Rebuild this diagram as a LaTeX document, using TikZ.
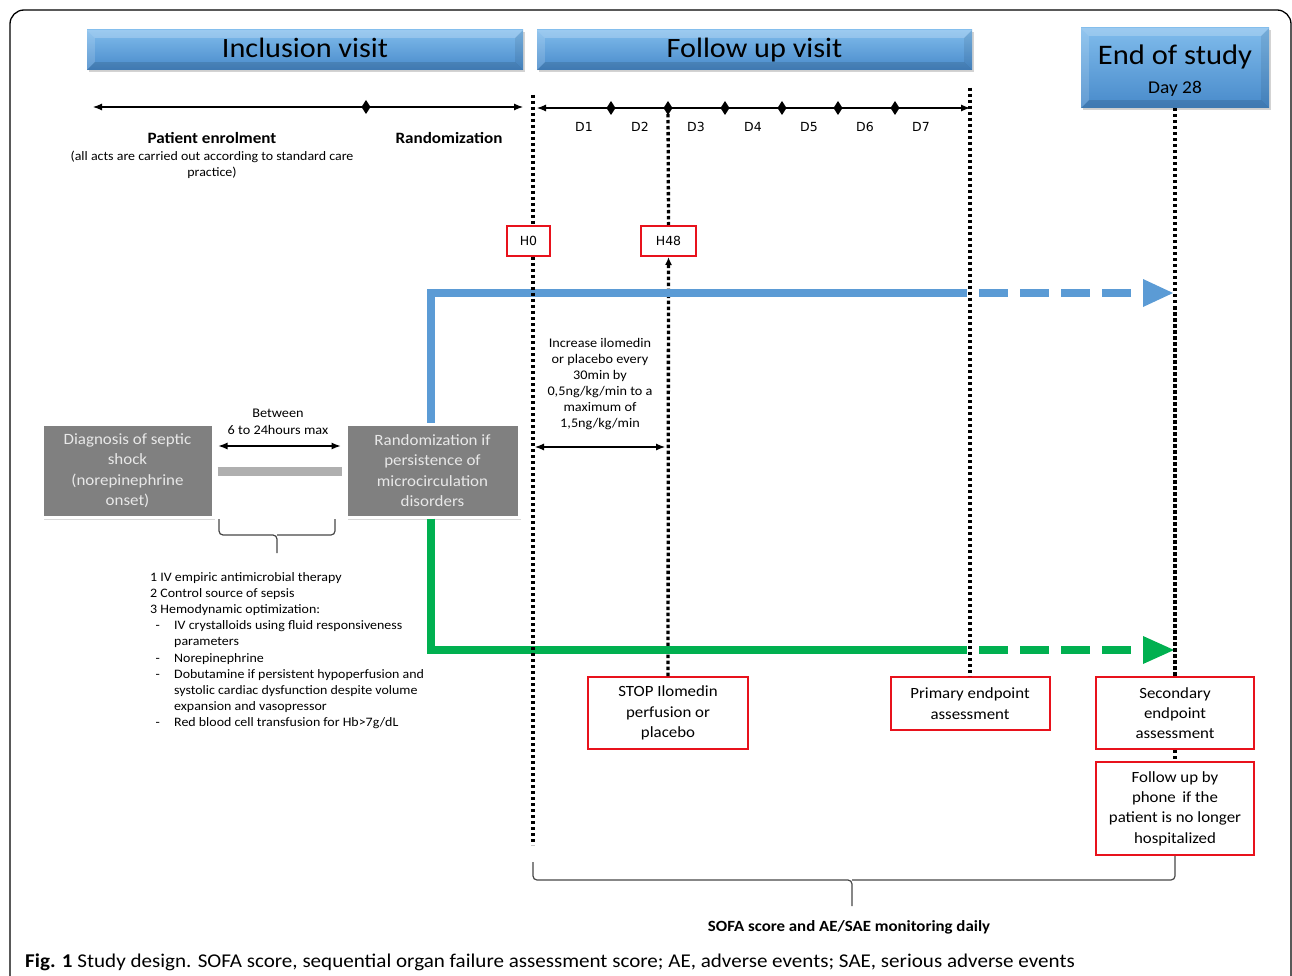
\documentclass[tikz,border=0pt]{standalone}
\usepackage{fontspec}
\setmainfont{Carlito}[FakeStretch=1.08]
\newfontfamily\verd{DejaVu Sans}
\usetikzlibrary{arrows.meta,shadows,calc}
\definecolor{bannerTop}{RGB}{128,188,236}
\definecolor{bannerBot}{RGB}{72,138,202}
\definecolor{bluel}{RGB}{91,155,213}
\definecolor{greenl}{RGB}{0,176,80}
\definecolor{redb}{RGB}{232,18,28}
\definecolor{grayb}{RGB}{128,128,128}
\definecolor{graytext}{RGB}{232,232,232}
\definecolor{graybar}{RGB}{175,175,175}
\definecolor{bracec}{RGB}{70,70,70}
\newcommand\fs[2]{\fontsize{#1}{#2}\selectfont}
\newcommand\dmd[1]{\fill (#1) +(0,-7) -- +(4.5,0) -- +(0,7) -- +(-4.5,0) -- cycle;}
\begin{document}
\begin{tikzpicture}[x=1pt,y=-1pt,
  banner/.style={draw=none, top color=bannerTop, bottom color=bannerBot, inner sep=0pt,
    drop shadow={opacity=0.35,shadow xshift=1.5pt,shadow yshift=-2.5pt}},
  graybox/.style={draw=white, line width=3pt, fill=grayb, text=graytext, align=center, inner sep=0pt,
    font=\fs{15.7}{20.5}, drop shadow={opacity=0.3,shadow xshift=2pt,shadow yshift=-2.5pt}},
  redbox/.style={draw=redb, line width=2pt, fill=white, align=center, inner sep=0pt, font=\fs{15.6}{20.3}},
  dotline/.style={line width=3.3pt, dash pattern=on 3.3pt off 2.7pt},
  tl/.style={line width=1.1pt, {Latex[length=9pt,width=7pt]}-{Latex[length=9pt,width=7pt]}},
  bracel/.style={draw=bracec, line width=1.2pt, rounded corners=4pt},
  lab/.style={inner sep=0pt, align=center}]
\useasboundingbox (0,0) rectangle (1292,976);
% frame
\draw[line width=1.3pt, rounded corners=14pt] (10,10) rectangle (1291,1010);

% banners
\node[banner, minimum width=436pt, minimum height=40pt] (inc) at (305,50) {};
\node[banner, minimum width=435pt, minimum height=40pt] (fol) at (754.5,50) {};
\node[banner, minimum width=188pt, minimum height=80pt] (endb) at (1175,68) {};
\foreach \n in {inc,fol,endb} {
  \fill[white,opacity=0.22] (\n.north west) -- (\n.north east) -- ($(\n.north east)+(-8,8)$) -- ($(\n.north west)+(8,8)$) -- cycle;
  \fill[white,opacity=0.15] (\n.north west) -- ($(\n.north west)+(8,8)$) -- ($(\n.south west)+(8,-8)$) -- (\n.south west) -- cycle;
  \fill[black,opacity=0.12] (\n.south west) -- ($(\n.south west)+(8,-8)$) -- ($(\n.south east)+(-8,-8)$) -- (\n.south east) -- cycle;
  \fill[black,opacity=0.08] (\n.north east) -- ($(\n.north east)+(-8,8)$) -- ($(\n.south east)+(-8,-8)$) -- (\n.south east) -- cycle;
}
\node[lab, anchor=base, font=\fs{28}{32}] (incT) at (305,58) {Inclusion visit};
\node[lab, anchor=base, font=\fs{28}{32}] (folT) at (754.5,58) {Follow up visit};
\node[lab, anchor=base, font=\fs{28.3}{32}] (endT) at (1175,65) {End of study};
\node[lab, anchor=base, font=\fs{18}{20}] (dayT) at (1175,94) {Day 28};

% dotted verticals (behind boxes)
\coordinate (v0t) at (533,95); \coordinate (v0b) at (533,845);
\draw[dotline] (v0t) -- (v0b);

% timelines
\coordinate (t1a) at (93,107); \coordinate (t1b) at (523,107);
\draw[tl] (t1a) -- (t1b);
\dmd{366,107}
\coordinate (t2a) at (537,108); \coordinate (t2b) at (970,108);
\draw[tl] (t2a) -- (t2b);
\foreach \x in {611,668,725,782,838,895} {\dmd{\x,108}}

\foreach \x/\d in {584/1,640/2,696/3,753/4,809/5,865/6,921/7}
  \node[lab, anchor=base, font=\verd\fs{12.5}{15}] (d\d) at (\x,132) {D\d};

\node[lab, anchor=base, font=\bfseries\fs{15.8}{18}] (penr) at (212,144) {Patient enrolment};
\node[lab, anchor=north, font=\fs{12.9}{16}] (acts) at (212,151) {(all acts are carried out according to standard care\\practice)};
\node[lab, anchor=base, font=\bfseries\fs{15.8}{18}] (rnd) at (449,144) {Randomization};

% H boxes
\node[redbox, font=\verd\fs{12.5}{15}, minimum width=43pt, minimum height=30pt] (h0) at (528.5,241) {H0};
\node[redbox, font=\verd\fs{12.5}{15}, minimum width=55pt, minimum height=30pt] (h48) at (668.5,241) {H48};

% bottom red boxes
\node[redbox, minimum width=160pt, minimum height=72pt] (stop) at (668,713) {STOP Ilomedin\\perfusion or\\placebo};
\node[redbox, minimum width=159pt, minimum height=53pt] (prim) at (970,703.5) {Primary endpoint\\assessment};
\node[redbox, minimum width=158pt, minimum height=72pt] (sec) at (1175,713) {Secondary\\endpoint\\assessment};
\node[redbox, minimum width=158pt, minimum height=93pt] (fup) at (1175,808.5) {Follow up by\\phone\, if the\\patient is no longer\\hospitalized};

\draw[dotline] (668,108) -- (h48.north);
\draw[dotline, -{Latex[length=8pt,width=7pt]}] (stop.north) -- (h48.south);
\coordinate (v2t) at (970,88);
\draw[dotline] (v2t) -- (prim.north);
\draw[dotline] (endb.south) -- (sec.north);
\draw[dotline] (sec.south) -- (fup.north);

% gray boxes
\node[graybox, minimum width=171pt, minimum height=93pt] (diag) at (127.5,470.5) {Diagnosis of septic\\shock\\(norepinephrine\\onset)};
\node[graybox, minimum width=173pt, minimum height=93pt] (rand) at (432.5,470.5) {Randomization if\\persistence of\\microcirculation\\disorders};
\draw[graybar, line width=9pt] ($(diag.east)+(3,1)$) -- ($(rand.west)+(-3,1)$);
\draw[tl] ($(diag.east)+(4,-24.5)$) -- ($(rand.west)+(-4,-24.5)$);
\node[lab, font=\fs{13.2}{17}] (betw) at (278,421.5) {Between\\6 to 24hours max};

% brace under gap
\draw[bracel] (219,519) -- (219,535) -- (277,535) -- (277,553);
\draw[bracel] (335,519) -- (335,535) -- (277,535);

% list
\node[lab, anchor=base west, font=\fs{12.9}{16.2}] (list) at (150,581) {%
\begin{tabular}[t]{@{}p{24pt}@{}l@{}}
\multicolumn{2}{@{}l@{}}{1 IV empiric antimicrobial therapy}\\
\multicolumn{2}{@{}l@{}}{2 Control source of sepsis}\\
\multicolumn{2}{@{}l@{}}{3 Hemodynamic optimization:}\\
\ \,- & IV crystalloids using fluid responsiveness\\
 & parameters\\
\ \,- & Norepinephrine\\
\ \,- & Dobutamine if persistent hypoperfusion and\\
 & systolic cardiac dysfunction despite volume\\
 & expansion and vasopressor\\
\ \,- & Red blood cell transfusion for Hb>7g/dL
\end{tabular}};

% increase text + arrow
\node[lab, font=\fs{13.2}{16}] (incr) at (600,384) {Increase ilomedin\\or placebo every\\30min by\\0,5ng/kg/min to a\\maximum of\\1,5ng/kg/min};
\coordinate (ia) at (535,447); \coordinate (ib) at (665,447);
\draw[tl] (ia) -- (ib);

% blue arm
\coordinate (bc) at (431,293); \coordinate (be) at (967,293);
\draw[bluel, line width=8pt] ($(rand.north)+(-1.5,0)$) -- (bc) -- (be);
\coordinate (bds) at (979,293); \coordinate (bde) at (1142,293);
\draw[bluel, line width=8pt, dash pattern=on 29pt off 12pt] (bds) -- (bde);
\fill[bluel] (1143,279) -- (1173,293) -- (1143,307) -- cycle;

% green arm
\coordinate (gc) at (431,650); \coordinate (ge) at (967,650);
\draw[greenl, line width=8pt] ($(rand.south)+(-1.5,0)$) -- (gc) -- (ge);
\coordinate (gds) at (979,650); \coordinate (gde) at (1142,650);
\draw[greenl, line width=8pt, dash pattern=on 29pt off 12pt] (gds) -- (gde);
\fill[greenl] (1143,636) -- (1174,650) -- (1143,664) -- cycle;

% redraw dotted lines over arms
\draw[dotline] (v0t) -- (v0b);
\draw[dotline] (v2t) -- (prim.north);
\draw[dotline] (endb.south) -- (sec.north);
\node[redbox, font=\verd\fs{12.5}{15}, minimum width=43pt, minimum height=30pt] (h0b) at (528.5,241) {H0};

% bottom brace
\draw[bracel] (533,862) -- (533,880) -- (852,880) -- (852,906);
\draw[bracel] (fup.south) -- (1175,880) -- (852,880);
\node[lab, anchor=base, font=\bfseries\fs{15.6}{17}] (sofa) at (849,931) {SOFA score and AE/SAE monitoring daily};

% caption
\node[lab, anchor=base west, font=\fs{19.5}{22}] (cap) at (25,967) {\textbf{Fig. 1} Study design. SOFA score, sequential organ failure assessment score; AE, adverse events; SAE, serious adverse events};
\end{tikzpicture}
\end{document}
